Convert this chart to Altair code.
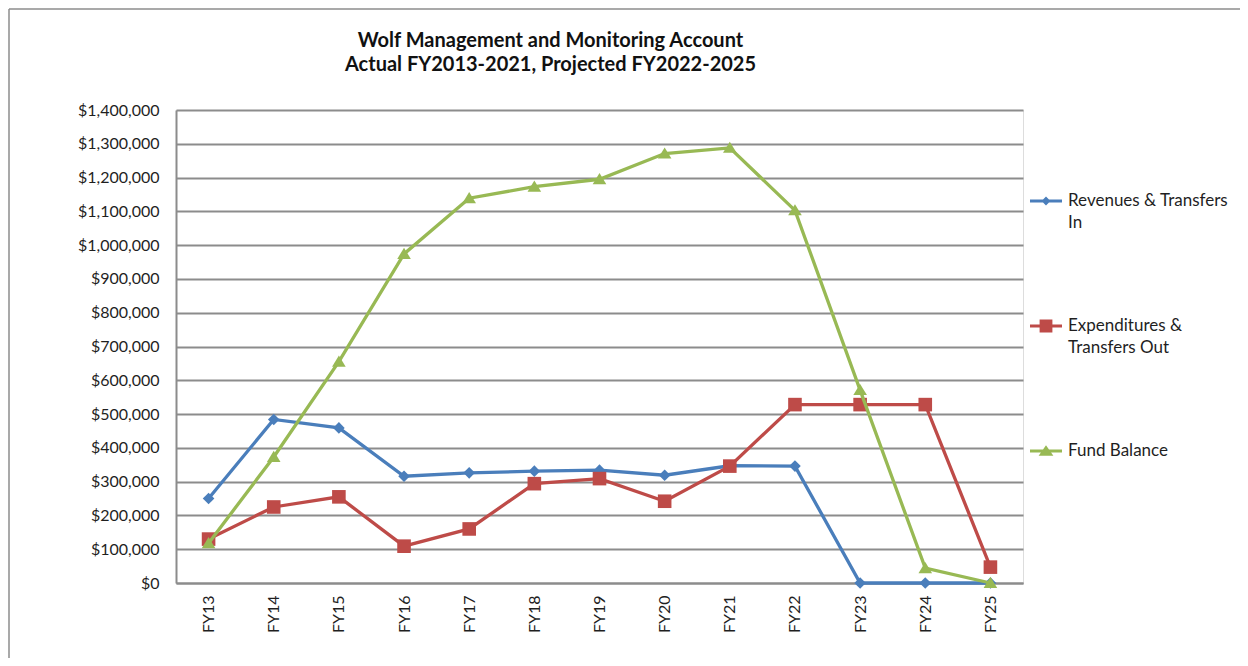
import altair as alt
import pandas as pd

fiscal_years = ["FY13", "FY14", "FY15", "FY16", "FY17", "FY18", "FY19",
                "FY20", "FY21", "FY22", "FY23", "FY24", "FY25"]
revenues = [250000, 484000, 459000, 316000, 326000, 331000, 334000,
            319000, 347000, 346000, 0, 0, 0]
expenditures = [130000, 225000, 255000, 109000, 160000, 294000, 309000,
                242000, 346000, 528000, 528000, 528000, 47000]
fund_balance = [118000, 373000, 655000, 974000, 1139000, 1173000, 1195000,
                1271000, 1288000, 1103000, 571000, 44000, 0]
series_names = ["Revenues & Transfers In", "Expenditures & Transfers Out", "Fund Balance"]
series_colors = ["#4A7EBB", "#BE4B48", "#98B954"]
y_ticks = list(range(0, 1400001, 100000))
title_lines = ["Wolf Management and Monitoring Account",
               "Actual FY2013-2021, Projected FY2022-2025"]

# marker shapes (plot) and legend shapes (line + marker)
plot_paths = [
    "M0,-0.58L0.58,0L0,0.58L-0.58,0Z",
    "M-0.68,-0.68L0.68,-0.68L0.68,0.68L-0.68,0.68Z",
    "M0,-0.62L0.68,0.5L-0.68,0.5Z",
]
sh = 0.5
legend_paths = [
    f"M-1,{sh-0.1}L1,{sh-0.1}L1,{sh+0.1}L-1,{sh+0.1}Z M0,{sh-0.28}L0.28,{sh}L0,{sh+0.28}L-0.28,{sh}Z",
    f"M-1,{sh-0.1}L1,{sh-0.1}L1,{sh+0.1}L-1,{sh+0.1}Z M-0.4,{sh-0.4}L0.4,{sh-0.4}L0.4,{sh+0.4}L-0.4,{sh+0.4}Z",
    f"M-1,{sh-0.1}L1,{sh-0.1}L1,{sh+0.1}L-1,{sh+0.1}Z M0,{sh-0.36}L0.46,{sh+0.3}L-0.46,{sh+0.3}Z",
]

rows = []
for name, vals in zip(series_names, [revenues, expenditures, fund_balance]):
    for fy, v in zip(fiscal_years, vals):
        rows.append({"FY": fy, "series": name, "value": v})
df = pd.DataFrame(rows)

FONT = "Lato"
TXT = "#1f1f1f"
GRID = "#8c8c8c"

x_enc = alt.X("FY:N", sort=fiscal_years,
              scale=alt.Scale(type="point", padding=0.5),
              axis=alt.Axis(title=None, labelAngle=-90, ticks=False, labelPadding=12,
                            labelFont=FONT, labelFontSize=16, labelColor=TXT,
                            domainColor=GRID, domainWidth=2, grid=False))
y_enc = alt.Y("value:Q", scale=alt.Scale(domain=[0, 1400000], nice=False, zero=True),
              axis=alt.Axis(title=None, values=y_ticks, format="$,.0f", ticks=False,
                            labelPadding=17, labelFont=FONT, labelFontSize=16,
                            labelColor=TXT, domainColor=GRID, domainWidth=2,
                            grid=True, gridColor=GRID, gridWidth=2))

base = alt.Chart(df)

layers = []
for name, color, path in zip(series_names, series_colors, plot_paths):
    sub = base.transform_filter(alt.datum.series == name)
    layers.append(sub.mark_line(color=color, strokeWidth=3.3).encode(x=x_enc, y=y_enc))
    layers.append(sub.mark_point(shape=path, size=400, filled=True, color=color,
                                 opacity=1, strokeWidth=0).encode(x=x_enc, y=y_enc))

leg = alt.Legend(title=None, orient="none", legendX=854, legendY=67,
                 symbolSize=1024, symbolOpacity=1, symbolStrokeWidth=0,
                 labelFont=FONT, labelFontSize=17, labelColor=TXT,
                 labelBaseline="top", labelOffset=6, labelLimit=300,
                 rowPadding=71, padding=0,
                 labelExpr="datum.label == 'Revenues & Transfers In' ? ['Revenues & Transfers', 'In'] : "
                           "datum.label == 'Expenditures & Transfers Out' ? ['Expenditures &', 'Transfers Out'] : datum.label")

legend_layer = base.mark_point(filled=True, opacity=0, size=10).encode(
    x=x_enc, y=y_enc,
    color=alt.Color("series:N", sort=series_names,
                    scale=alt.Scale(domain=series_names, range=series_colors), legend=leg),
    shape=alt.Shape("series:N", sort=series_names,
                    scale=alt.Scale(domain=series_names, range=legend_paths), legend=leg),
)
layers.append(legend_layer)

frame_df = pd.DataFrame({"k": [0]})
frame_top = alt.Chart(frame_df).mark_rule(color=GRID, strokeWidth=1.5).encode(
    x=alt.value(-167), x2=alt.value(2000), y=alt.value(-101))
frame_left = alt.Chart(frame_df).mark_rule(color=GRID, strokeWidth=1.5).encode(
    x=alt.value(-167), y=alt.value(-101), y2=alt.value(2000))
layers.extend([frame_top, frame_left])

chart = alt.layer(*layers).properties(
    width=847, height=473,
    padding={"left": 168, "top": 102, "right": 217, "bottom": 75},
    autosize=alt.AutoSizeParams(type="none"),
    title=alt.TitleParams(text=title_lines, font=FONT, fontSize=20, fontWeight="bold",
                          color="#111111", anchor="middle", frame="group", dx=-49,
                          offset=-67, lineHeight=24),
).configure_view(stroke=None).configure(
    style={"guide-label": {"lineHeight": 22}}
)

chart.save("out.html", embed_options={"renderer": "svg", "actions": False})
